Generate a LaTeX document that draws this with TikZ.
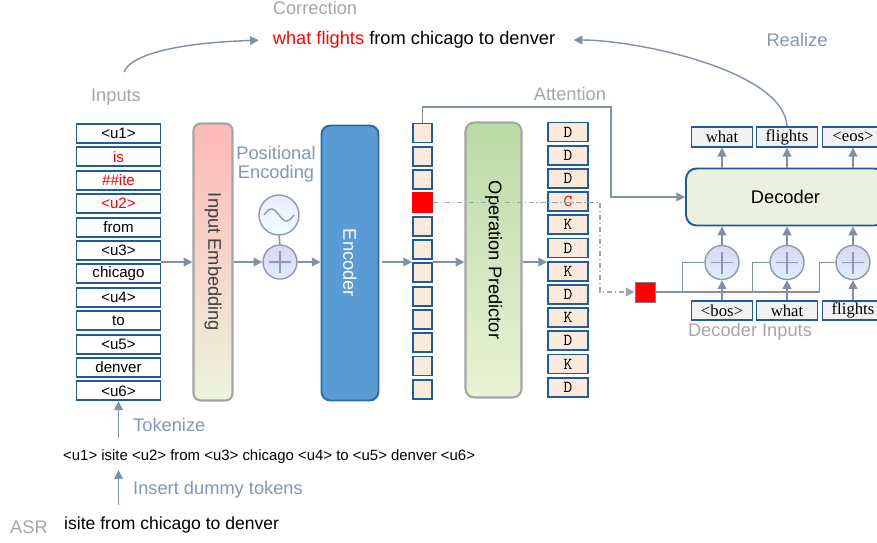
\documentclass[tikz,border=0pt]{standalone}
\usepackage{fontspec}
\setmainfont{Liberation Sans}
\newfontfamily\serifbox{Liberation Serif}
\usetikzlibrary{arrows.meta,calc}
\definecolor{arrowc}{HTML}{8090A6}
\definecolor{lblgray}{HTML}{A6A6A6}
\definecolor{lblblue}{HTML}{8497B0}
\definecolor{boxblue}{HTML}{1F5C99}
\definecolor{peach}{HTML}{FBE9DC}
\definecolor{tokgray}{HTML}{F2F2F2}
\definecolor{decfill}{HTML}{EBF1DE}
\definecolor{encblue}{HTML}{5B9BD5}
\definecolor{encedge}{HTML}{2E6BA6}
\definecolor{boxgray}{HTML}{A5A5A5}
\definecolor{embtop}{HTML}{FFB8B8}
\definecolor{embmid}{HTML}{F8DEC8}
\definecolor{embbot}{HTML}{EBF4DC}
\definecolor{optop}{HTML}{BBDBA5}
\definecolor{opbot}{HTML}{EAF2D6}
\definecolor{circedge}{HTML}{8C99AE}
\definecolor{plustop}{HTML}{DCD6F4}
\definecolor{plusbot}{HTML}{DDEEFA}

\begin{document}
\begin{tikzpicture}[x=0.02cm,y=-0.02cm,font=\fontsize{10.4}{12}\selectfont,
  arr/.style={-{Triangle[length=5pt,width=5pt]},draw=arrowc,line width=0.8pt},
  wire/.style={draw=arrowc,line width=0.8pt},
  dd/.style={-{Triangle[length=5pt,width=5pt]},draw=arrowc!80,line width=0.6pt,dash pattern=on 3pt off 1.5pt on 0.8pt off 1.5pt},
  tok/.style={draw=boxblue,line width=1.1pt,fill=white,minimum width=1.68cm,minimum height=0.38cm,inner sep=0pt,font=\fontsize{8.6}{10}\selectfont},
  encbox/.style={draw=boxblue,line width=1.1pt,fill=peach,minimum size=0.38cm,inner sep=0pt},
  hitbox/.style={encbox,fill=red,draw=red},
  opbox/.style={encbox,minimum width=0.8cm,font=\ttfamily\fontsize{9.5}{10}\selectfont},
  dtok/.style={draw=boxblue,line width=1.1pt,fill=tokgray,minimum width=1.22cm,minimum height=0.39cm,inner sep=0pt,font=\serifbox\fontsize{9.5}{10}\selectfont},
  plus/.style={circle,draw=circedge,line width=0.8pt,top color=plustop,bottom color=plusbot,minimum size=0.68cm,inner sep=0pt,
    path picture={\draw[circedge,line width=0.8pt] (path picture bounding box.center) +(-11,0) -- +(11,0) +(0,-11) -- +(0,11);}},
  glbl/.style={text=lblgray},
  blbl/.style={text=lblblue}]
\clip (0,0) rectangle (877,542);

\foreach \t/\c [count=\i from 0] in {<u1>/black,is/red,\#\#ite/red,<u2>/red,from/black,<u3>/black,chicago/black,<u4>/black,to/black,<u5>/black,denver/black,<u6>/black}
  \node[tok,text=\c] (in\i) at (118.5,{133.5+23.4*\i}) {\t};

\node[draw=boxgray,line width=1.2pt,rounded corners=4pt,top color=embtop,middle color=embmid,bottom color=embbot,minimum width=0.78cm,minimum height=5.54cm] (emb) at (213,262) {};
\node[rotate=-90,text=black!75] (embt) at (emb) {Input Embedding};

\node[blbl,align=center] (pel) at (276,164) {Positional\\[-1pt]Encoding};
\node[circle,draw=circedge,line width=0.8pt,top color=blue!8,bottom color=cyan!6,minimum size=0.8cm,inner sep=0pt,
  path picture={\draw[circedge,line width=0.8pt,shift={(path picture bounding box.center)},domain=-15:15,samples=40] plot ({\x},{6*sin(\x*12)});}] (sine) at (279,215) {};
\node[plus] (pe) at (280,262) {};
\draw[wire] (sine.south) -- (pe.north);

\node[draw=encedge,fill=encblue,line width=1.1pt,rounded corners=5pt,minimum width=1.14cm,minimum height=5.5cm] (enc) at (350,263) {};
\node[rotate=-90,text=white] (enct) at (enc) {Encoder};

\foreach \s [count=\i from 0] in {encbox,encbox,encbox,hitbox,encbox,encbox,encbox,encbox,encbox,encbox,encbox,encbox}
  \node[\s] (e\i) at (422.5,{133+23.3*\i}) {};

\node[draw=boxgray,line width=1.2pt,rounded corners=5pt,top color=optop,bottom color=opbot,minimum width=1.12cm,minimum height=5.5cm] (op) at (493.5,260) {};
\node[rotate=-90] (opt) at (op) {Operation Predictor};

\foreach \t/\c [count=\i from 0] in {D/black,D/black,D/black,C/red,K/black,D/black,K/black,D/black,K/black,D/black,K/black,D/black}
  \node[opbox,text=\c] (o\i) at (568,{132+23.2*\i}) {\t};

\draw[arr] (emb.west -| in0.east) -- (emb.west);
\draw[arr] (emb.east |- pe) -- (pe.west);
\draw[arr] (pe.east) -- (pe -| enc.west);
\draw[arr] ($(enc.east |- pe)+(3,0)$) -- (pe -| e0.west);
\draw[arr] (pe -| e0.east) -- (pe -| op.west);
\draw[arr] (pe -| op.east) -- (pe -| o0.west);

\node[draw=boxblue,line width=1.1pt,fill=decfill,rounded corners=6pt,minimum width=3.98cm,minimum height=1.14cm] (dec) at (785.5,197) {Decoder};
\foreach \t/\x [count=\i] in {what/722,flights/787,<eos>/853}
  \node[dtok] (t\i) at (\x,137) {\t};
\foreach \t/\x [count=\i] in {<bos>/722,what/787,flights/853}
  \node[dtok] (b\i) at (\x,310.5) {\t};
\foreach \x [count=\i] in {722,787,853}
  \node[plus] (p\i) at (\x,262.5) {};
\foreach \i in {1,2,3} {
  \draw[arr] (b\i.north) -- (p\i.south);
  \draw[arr] (p\i.north) -- (p\i.north |- dec.south);
  \draw[arr] (t\i.south |- dec.north) -- (t\i.south);
}
\node[glbl] (dil) at (750,332) {Decoder Inputs};

\node[draw=black!50,line width=0.5pt,fill=red,minimum size=0.4cm,inner sep=0pt] (sq) at (645,292) {};
\foreach \i/\d in {1/-22,2/-17,3/-16}
  \draw[wire] (sq.east) -| ($(p\i.west)+(\d,0)$) -- (p\i.west);
\coordinate (ddc) at (600,292);
\draw[dd] (e3.east) -| (ddc) -- (sq.west);

\coordinate (att) at (611,107);
\draw[arr] (e0.north) |- (att) |- (dec.west);
\node[glbl] (attl) at (570,94) {Attention};

\node[glbl] (corl) at (315,8) {Correction};
\node (fix) at (414,40) {\textcolor{red}{what flights} from chicago to denver};
\node[glbl] (inp) at (116,97) {Inputs};
\coordinate (cs) at (124,72);
\draw[arr,shorten >=4.5pt] (cs) .. controls +(6,-16) and +(-95,3) .. (fix.west);
\node[blbl] (real) at (797,40) {Realize};
\draw[arr,shorten >=7pt] (t2.north) .. controls +(-3,-56) and +(75,0) .. (fix.east);

\node[anchor=west,font=\fontsize{8.5}{10}\selectfont] (seq) at (57,457) {<u1> isite <u2> from <u3> chicago <u4> to <u5> denver <u6>};
\node[anchor=west,font=\fontsize{10}{12}\selectfont] (asr) at (58,525) {isite from chicago to denver};
\node[glbl] (asrl) at (29,527) {ASR};
\draw[arr,shorten <=3.4pt] (seq.north -| in11.south) -- (in11.south);
\draw[arr,shorten <=3.4pt] (asr.north -| in11.south) -- (seq.south -| in11.south);
\node[blbl,anchor=west] (tokl) at (127,425) {Tokenize};
\node[blbl,anchor=west] (insl) at (127,490) {Insert dummy tokens};
\end{tikzpicture}
\end{document}
